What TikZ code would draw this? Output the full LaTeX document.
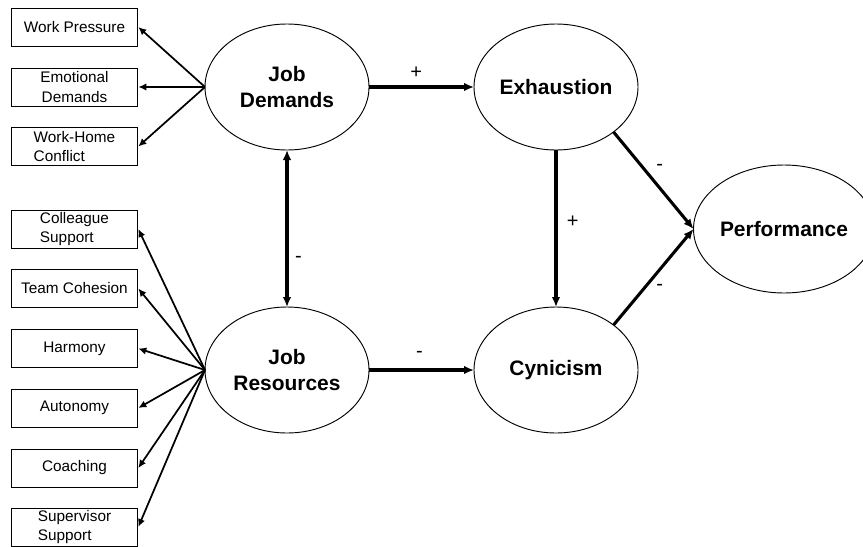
\documentclass[tikz,border=0pt]{standalone}
\usepackage{fontspec}
\setmainfont{Liberation Sans}
\usetikzlibrary{arrows.meta,shapes.geometric,positioning}

\begin{document}
\begin{tikzpicture}[x=0.75pt,y=-0.75pt,>={Latex[length=7.5pt,width=6.5pt]},
  item/.style={draw,line width=0.7pt,minimum width=95pt,minimum height=28.5pt,inner sep=1pt,align=left,font=\fontsize{11.5}{14.5}\selectfont},
  latent/.style={draw,ellipse,line width=0.7pt,minimum width=123pt,minimum height=94.5pt,inner sep=0pt,outer sep=0pt,align=center,font=\fontsize{15.7}{20}\selectfont\bfseries},
  main/.style={->,line width=2.3pt},
  load/.style={->,line width=1.3pt,>={Latex[length=6pt,width=5.5pt]}},
  sign/.style={font=\fontsize{15}{16}\selectfont,inner sep=1pt}]
  \useasboundingbox (0,0) rectangle (863,546);

  % latent variables
  \node[latent] (jd) at (287,87) {Job\\Demands};
  \node[latent] (jr) at (287,370) {Job\\Resources};
  \node[latent] (ex) at (556,87) {Exhaustion};
  \node[latent] (cy) at (556,370) {Cynicism};
  \node[latent,minimum width=118.5pt,minimum height=96pt] (perf) at (784,229) {Performance};

  % indicators
  \node[item] (wp) at (74.5,27) {Work Pressure};
  \node[item,align=center] (ed) at (74.5,87) {Emotional\\Demands};
  \node[item] (whc) at (74.5,146.5) {Work-Home\\Conflict};
  \node[item] (cs) at (74.5,229) {Colleague\\Support};
  \node[item] (tc) at (74.5,288.5) {Team Cohesion};
  \node[item] (ha) at (74.5,348.5) {Harmony};
  \node[item] (au) at (74.5,408) {Autonomy};
  \node[item] (co) at (74.5,468) {Coaching};
  \node[item] (ss) at (74.5,527) {Supervisor\\Support};

  \foreach \b in {wp,ed,whc}
    \draw[load] (jd.west) -- (\b.east);
  \foreach \b in {cs,tc,ha,au,co,ss}
    \draw[load] (jr.west) -- (\b.east);

  % structural paths
  \draw[main] (jd) -- node[sign,pos=0.45,above=4pt] (s1) {+} (ex);
  \draw[main,<->] (jd) -- node[sign,pos=0.7,right=4pt] (s2) {-} (jr);
  \draw[main] (ex) -- node[sign,pos=0.46,right=6pt] (s3) {+} (cy);
  \draw[main] (jr) -- node[sign,pos=0.48,above=7pt] (s4) {-} (cy);
  \draw[main] (ex.-38) -- node[sign,pos=0.5,above right=5pt and 0pt] (s5) {-} (perf.west);
  \draw[main] (cy.38) -- node[sign,pos=0.5,below right=3pt and 0pt] (s6) {-} (perf.west);
\end{tikzpicture}
\end{document}
